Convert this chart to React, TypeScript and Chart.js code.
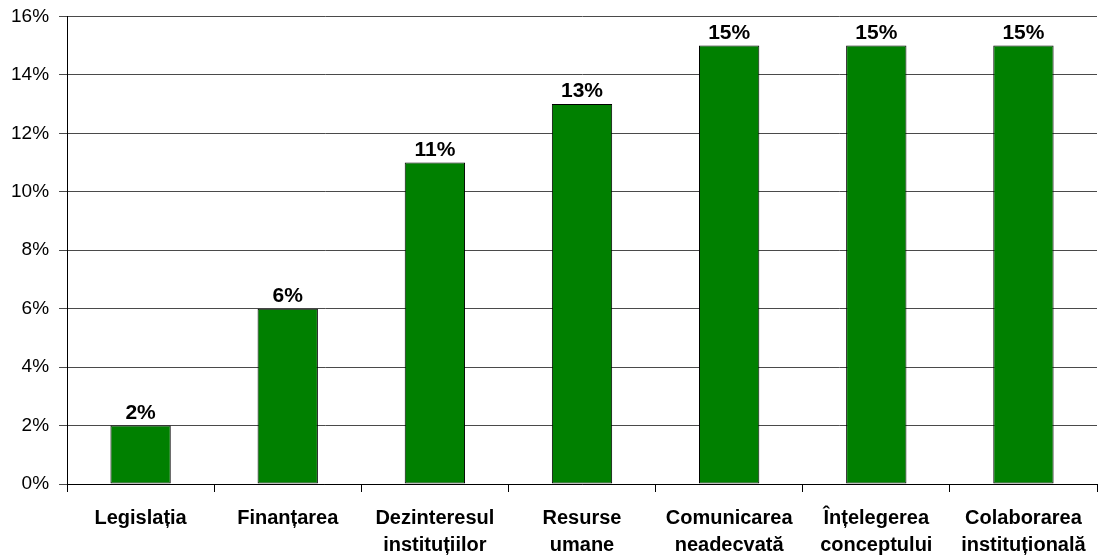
import React, { useEffect, useRef } from "react";
import { Chart, registerables } from "chart.js";

Chart.register(...registerables);

const categories: string[][] = [
  ["Legislația"],
  ["Finanțarea"],
  ["Dezinteresul", "instituțiilor"],
  ["Resurse", "umane"],
  ["Comunicarea", "neadecvată"],
  ["Înțelegerea", "conceptului"],
  ["Colaborarea", "instituțională"],
];
const values: number[] = [2, 6, 11, 13, 15, 15, 15];
const yMin = 0;
const yMax = 16;
const yStep = 2;

const FONT = "'Liberation Sans', Arial, sans-serif";

const labelPlugin = {
  id: "barLabels",
  afterDatasetsDraw(chart: any) {
    const ctx = chart.ctx;
    const meta = chart.getDatasetMeta(0);
    ctx.save();
    ctx.font = `bold 21px ${FONT}`;
    ctx.fillStyle = "#000";
    ctx.textAlign = "center";
    ctx.textBaseline = "alphabetic";
    meta.data.forEach((el: any, i: number) => {
      ctx.fillText(values[i] + "%", el.x, el.y - 7);
    });
    ctx.restore();
  },
};

export default function App() {
  const ref = useRef<HTMLCanvasElement | null>(null);
  useEffect(() => {
    if (!ref.current) return;
    const chart = new Chart(ref.current, {
      type: "bar",
      data: {
        labels: categories,
        datasets: [
          {
            data: values,
            backgroundColor: "#008000",
            borderColor: "#000000",
            borderWidth: 1,
            borderSkipped: false,
            barPercentage: 0.41,
            categoryPercentage: 1,
          },
        ],
      },
      options: {
        responsive: false,
        animation: false,
        layout: { padding: { top: 0, right: 3, bottom: -16, left: 1 } },
        plugins: {
          legend: { display: false },
          tooltip: { enabled: false },
        },
        scales: {
          x: {
            offset: true,
            grid: {
              display: true,
              offset: true,
              drawOnChartArea: false,
              drawTicks: true,
              tickLength: 8,
              color: "#000",
            },
            border: { display: true, color: "#000", width: 1 },
            ticks: {
              color: "#000",
              padding: 13,
              maxRotation: 0,
              autoSkip: false,
              font: { family: FONT, size: 20, weight: "bold", lineHeight: 1.35 },
            },
          },
          y: {
            min: yMin,
            max: yMax,
            grid: {
              color: "#4a4a4a",
              tickLength: 8,
              drawTicks: true,
            },
            border: { display: true, color: "#000", width: 1 },
            ticks: {
              stepSize: yStep,
              color: "#000",
              padding: 10,
              font: { family: FONT, size: 19, lineHeight: 0.67 },
              callback: (v: any) => v + "%",
            },
          },
        },
      },
      plugins: [labelPlugin],
    });
    return () => chart.destroy();
  }, []);
  return (
    <div style={{ position: "fixed", left: 0, top: 0, width: 1100, height: 556, background: "#fff" }}>
      <canvas ref={ref} width={1100} height={556} style={{ width: 1100, height: 556 }} />
    </div>
  );
}
